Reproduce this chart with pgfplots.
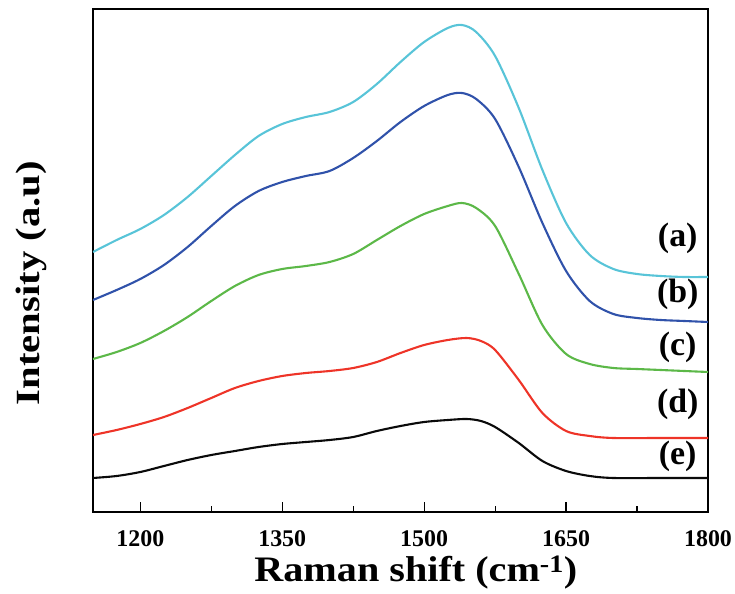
\documentclass[border=0pt]{standalone}
\usepackage{pgfplots}
\pgfplotsset{compat=1.18}
\usepackage{fontspec}
\setmainfont{Liberation Serif}
\definecolor{cA}{RGB}{88,196,216}
\definecolor{cB}{RGB}{48,82,170}
\definecolor{cC}{RGB}{92,184,72}
\definecolor{cD}{RGB}{238,52,40}
\definecolor{cE}{RGB}{10,10,10}
\begin{document}
\begin{tikzpicture}
\path[use as bounding box] (-93bp,-82bp) rectangle (642bp,512bp);
\begin{axis}[
  scale only axis, width=615bp, height=503bp,
  xmin=1150, xmax=1800, ymin=0, ymax=503,
  xtick={1200,1350,1500,1650,1800},
  minor xtick={1275,1425,1575,1725},
  ytick=\empty,
  xtick pos=bottom,
  tick align=inside,
  major tick length=10bp, minor tick length=6bp,
  axis line style={line width=1.3bp},
  every tick/.style={line width=1.2bp, black},
  /pgf/number format/assume math mode=true,
  /pgf/number format/set thousands separator={},
  xticklabel style={font=\bfseries\fontsize{24}{24}\selectfont, yshift=-15bp},
  xlabel={\scalebox{1.12}[1]{\bfseries\fontsize{36}{36}\selectfont Raman shift (cm\textsuperscript{-1})}},
  xlabel style={at={(axis description cs:0.525,-0.12)}, anchor=center},
  ylabel={\scalebox{1.2}[1]{\bfseries\fontsize{34}{34}\selectfont Intensity (a.u)}},
  ylabel style={at={(axis description cs:-0.1,0.455)}, anchor=center},
  every axis plot/.append style={line width=2.1bp, smooth, no marks},
  clip=true,
]
% (a)
\addplot[cA] coordinates {
(1150,260) (1175,272) (1200,283) (1225,297) (1250,315) (1275,336) (1300,357) (1325,376) (1350,388) (1375,395) (1400,400) (1425,410) (1450,428) (1475,450) (1500,470) (1525,484) (1540,487) (1555,480) (1575,456) (1600,404) (1625,342) (1650,289) (1675,257) (1700,243) (1725,238) (1750,236) (1775,235) (1800,235)
};
% (b)
\addplot[cB] coordinates {
(1150,212) (1175,222) (1200,233) (1225,247) (1250,265) (1275,286) (1300,306) (1325,321) (1350,330) (1375,336) (1400,341) (1425,354) (1450,371) (1475,390) (1500,406) (1525,417) (1540,419) (1555,413) (1575,393) (1600,345) (1625,289) (1650,241) (1675,211) (1700,198) (1725,194) (1750,192) (1775,191) (1800,190)
};
% (c)
\addplot[cC] coordinates {
(1150,153) (1175,160) (1200,169) (1225,181) (1250,195) (1275,211) (1300,226) (1325,237) (1350,243) (1375,246) (1400,250) (1425,258) (1450,272) (1475,286) (1500,298) (1525,306) (1540,309) (1555,304) (1575,286) (1600,238) (1625,187) (1650,158) (1675,148) (1700,144) (1725,143) (1750,142) (1775,141) (1800,140)
};
% (d)
\addplot[cD] coordinates {
(1150,77) (1175,82) (1200,88) (1225,95) (1250,104) (1275,114) (1300,124) (1325,131) (1350,136) (1375,139) (1400,141) (1425,144) (1450,150) (1475,159) (1500,167) (1525,172) (1545,174) (1560,171) (1575,162) (1600,132) (1625,99) (1650,81) (1675,76) (1700,74) (1750,74) (1800,74)
};
% (e)
\addplot[cE] coordinates {
(1150,34) (1175,36) (1200,40) (1225,46) (1250,52) (1275,57) (1300,61) (1325,65) (1350,68) (1375,70) (1400,72) (1425,75) (1450,81) (1475,86) (1500,90) (1525,92) (1545,93) (1560,91) (1575,85) (1600,69) (1625,51) (1650,41) (1675,36) (1700,34) (1750,34) (1800,34)
};
\node[font=\bfseries\fontsize{34}{34}\selectfont] at (axis cs:1768,274) {(a)};
\node[font=\bfseries\fontsize{34}{34}\selectfont] at (axis cs:1768,218) {(b)};
\node[font=\bfseries\fontsize{34}{34}\selectfont] at (axis cs:1768,165) {(c)};
\node[font=\bfseries\fontsize{34}{34}\selectfont] at (axis cs:1768,108) {(d)};
\node[font=\bfseries\fontsize{34}{34}\selectfont] at (axis cs:1768,56) {(e)};
\end{axis}
\end{tikzpicture}
\end{document}
